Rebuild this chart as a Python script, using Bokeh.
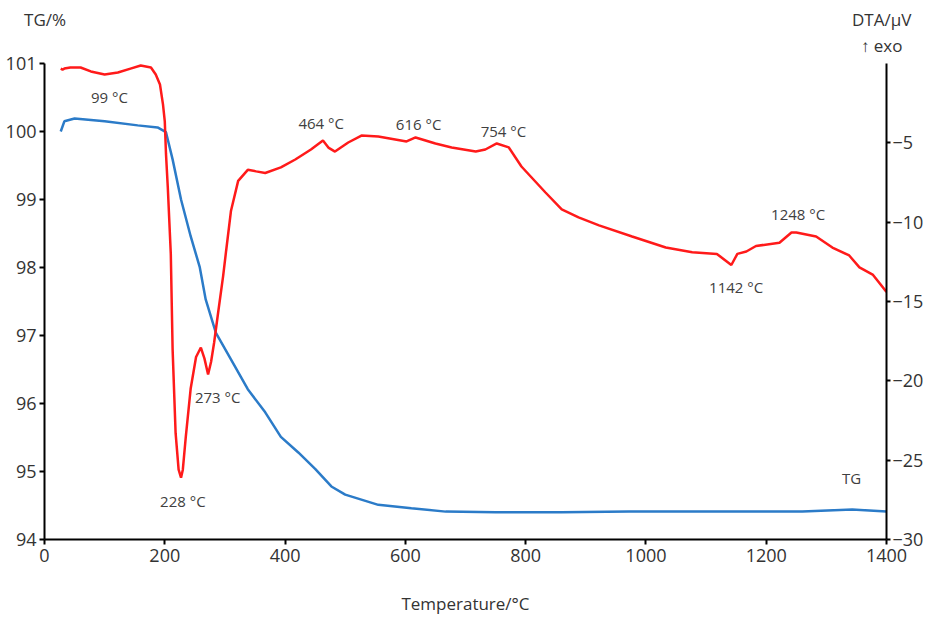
from bokeh.plotting import figure
from bokeh.models import Range1d, LinearAxis, FixedTicker
from bokeh.embed import file_html
from bokeh.resources import INLINE
from bokeh.core.properties import value

FONT = "Open Sans"

# DTA curve (temperature in °C, signal in µV)
dta_temp = [27, 30, 33, 43, 60, 77, 100, 122, 143, 160, 177, 185, 192, 197, 200, 202,
            205, 210, 213, 218, 223, 227, 230, 235, 243, 252, 260, 266, 272, 277, 282,
            288, 297, 302, 310, 322, 338, 352, 367, 393, 417, 443, 463, 472, 483, 505,
            527, 555, 602, 617, 650, 677, 717, 733, 752, 772, 793, 833, 860, 888, 922,
            977, 1033, 1077, 1118, 1142, 1152, 1167, 1183, 1222, 1242, 1250, 1283, 1310,
            1338, 1355, 1377, 1400]
dta_uv = [-0.32, -0.38, -0.32, -0.25, -0.25, -0.5, -0.69, -0.57, -0.32, -0.13, -0.25,
          -0.69, -1.32, -2.58, -3.65, -5.7, -7.8, -12.0, -18.0, -23.3, -25.6, -26.1,
          -25.6, -23.5, -20.5, -18.5, -17.9, -18.6, -19.6, -18.8, -17.6, -15.9, -13.4,
          -11.8, -9.3, -7.4, -6.7, -6.8, -6.9, -6.55, -6.05, -5.42, -4.85, -5.3, -5.55,
          -4.98, -4.54, -4.6, -4.91, -4.66, -5.04, -5.29, -5.55, -5.42, -5.04, -5.29,
          -6.49, -8.13, -9.2, -9.7, -10.2, -10.9, -11.6, -11.9, -12.0, -12.7, -12.0,
          -11.85, -11.5, -11.3, -10.65, -10.65, -10.9, -11.6, -12.1, -12.85, -13.3, -14.4]

# TG curve (temperature in °C, mass in %)
tg_temp = [27, 33, 50, 100, 155, 188, 202, 213, 227, 243, 258, 268, 285, 310, 338, 367,
           393, 422, 450, 477, 500, 555, 610, 667, 750, 860, 972, 1122, 1260, 1343, 1400]
tg_pct = [100.0, 100.15, 100.19, 100.15, 100.09, 100.06, 99.99, 99.59, 99.0, 98.46, 98.01,
          97.53, 97.04, 96.65, 96.21, 95.87, 95.51, 95.28, 95.04, 94.78, 94.66, 94.51,
          94.46, 94.41, 94.40, 94.40, 94.41, 94.41, 94.41, 94.44, 94.41]

# Peak annotations
peak_text = ["99 °C", "228 °C", "273 °C", "464 °C", "616 °C", "754 °C", "1142 °C", "1248 °C"]
peak_temp = [108, 230, 288, 460, 622, 763, 1150, 1253]
peak_uv = [-2.14, -27.6, -21.0, -3.78, -3.84, -4.28, -14.1, -9.5]

x_ticks = [0, 200, 400, 600, 800, 1000, 1200, 1400]
tg_ticks = [94, 95, 96, 97, 98, 99, 100, 101]
dta_ticks = [-30, -25, -20, -15, -10, -5]

# axis titles placed above the plot (text, temperature position)
head_lower = {1392: "↑ exo"}
head_upper = {1: "TG/%", 1392: "DTA/µV"}

RED = "#ff1a1a"
BLUE = "#2b7bc8"
TXT = "#404040"

p = figure(width=926, height=618, x_range=Range1d(0, 1400), y_range=Range1d(94, 101),
           output_backend="svg", toolbar_location=None,
           min_border_left=44, min_border_right=30, min_border_top=63, min_border_bottom=79)
p.extra_y_ranges = {"dta": Range1d(-30, 0)}
p.outline_line_color = None
p.xgrid.visible = False
p.ygrid.visible = False
p.background_fill_color = "white"

p.line(tg_temp, tg_pct, line_color=BLUE, line_width=2.5)
p.line(dta_temp, dta_uv, y_range_name="dta", line_color=RED, line_width=2.5)

p.text(x=peak_temp, y=peak_uv, text=peak_text, y_range_name="dta",
       text_font=value(FONT), text_font_size="15px", text_color=TXT,
       text_align="center", text_baseline="middle")
p.text(x=[1342], y=[94.9], text=["TG"], text_font=value(FONT), text_font_size="15px",
       text_color=TXT, text_align="center", text_baseline="middle")

def style(ax):
    ax.axis_line_color = "black"
    ax.axis_line_width = 2
    ax.major_tick_line_color = "black"
    ax.major_tick_line_width = 2
    ax.major_tick_in = 0
    ax.major_tick_out = 5
    ax.minor_tick_line_color = None
    ax.major_label_text_font = FONT
    ax.major_label_text_font_size = "18px"
    ax.major_label_text_color = "#333333"
    ax.major_label_standoff = 4

xa = p.xaxis[0]
style(xa)
xa.ticker = FixedTicker(ticks=x_ticks)
xa.axis_label = "Temperature/°C"
xa.axis_label_text_font = FONT
xa.axis_label_text_font_size = "17px"
xa.axis_label_text_font_style = "normal"
xa.axis_label_text_color = "#333333"
xa.axis_label_standoff = 27

ya = p.yaxis[0]
style(ya)
ya.ticker = FixedTicker(ticks=tg_ticks)
ya.major_label_standoff = 3

ra = LinearAxis(y_range_name="dta", ticker=FixedTicker(ticks=dta_ticks))
style(ra)
ra.major_tick_out = 4
ra.major_label_standoff = 2
p.add_layout(ra, "right")

def head_axis(labels, standoff):
    ax = LinearAxis(ticker=FixedTicker(ticks=list(labels.keys())),
                    major_label_overrides=labels)
    ax.axis_line_color = None
    ax.major_tick_line_color = None
    ax.minor_tick_line_color = None
    ax.major_tick_in = 0
    ax.major_tick_out = 0
    ax.major_label_text_font = FONT
    ax.major_label_text_font_size = "17px"
    ax.major_label_text_color = "#333333"
    ax.major_label_standoff = standoff
    return ax

p.add_layout(head_axis(head_lower, 7), "above")
p.add_layout(head_axis(head_upper, 0), "above")

open("out.html", "w").write(file_html(p, INLINE))
